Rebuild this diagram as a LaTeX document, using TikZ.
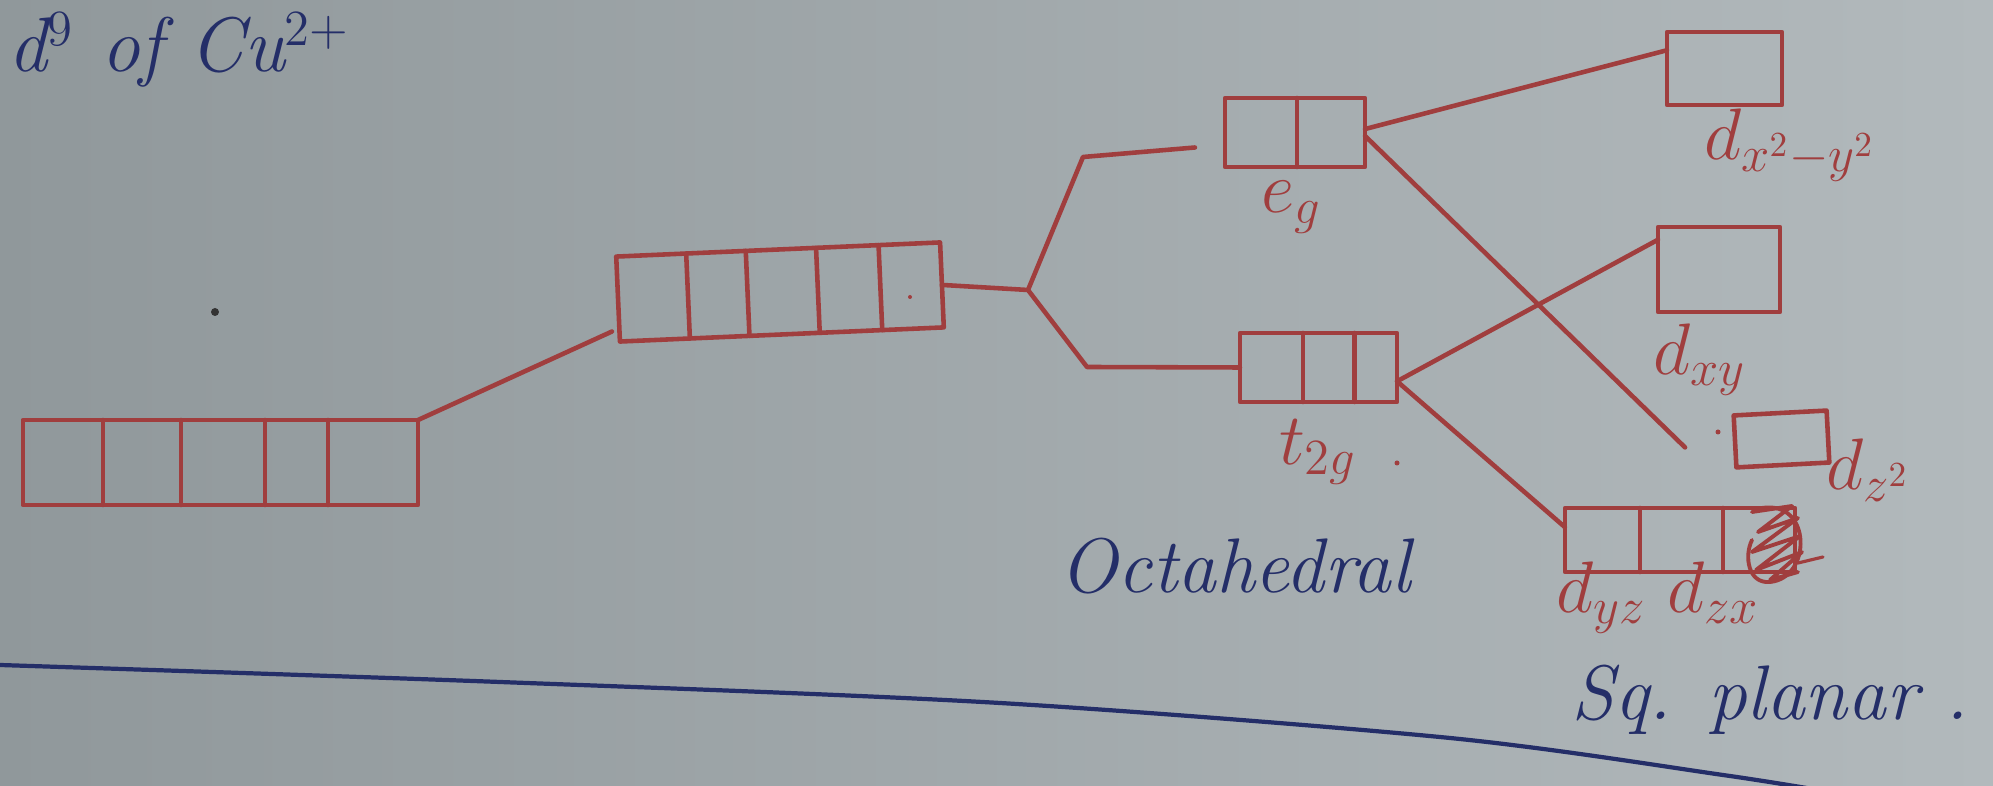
\documentclass[tikz,border=0pt]{standalone}
\usetikzlibrary{calc}
\definecolor{paperdark}{RGB}{144,152,155}
\definecolor{paperlight}{RGB}{178,185,188}
\definecolor{inkred}{RGB}{160,62,62}
\definecolor{inkblue}{RGB}{36,46,104}

% divider lines splitting an orbital box into cells
\newcommand\orbcells[2]{%
  \foreach \f in {#2}
    \draw[ink] ($(#1.north west)!\f!(#1.north east)$) -- ($(#1.south west)!\f!(#1.south east)$);}

\tikzset{
  ink/.style={draw=inkred, line width=1.3pt, line cap=round, line join=round},
  orb/.style={ink, rectangle, inner sep=0pt, outer sep=0pt},
  orblabel/.style={text=inkred, font=\fontsize{20}{24}\selectfont, inner sep=0pt},
  note/.style={text=inkblue, font=\itshape\fontsize{22}{26}\selectfont, inner sep=0pt},
  rule/.style={draw=inkblue, line width=1.2pt},
}

\begin{document}
\begin{tikzpicture}[x=0.01cm, y=-0.01cm]
  \useasboundingbox (0,0) rectangle (1993,786);
  \shade[left color=paperdark, right color=paperlight] (0,0) rectangle (1993,786);

  % heading
  \node[note, anchor=base west] (title) at (8,72) {d$^{9}$ of Cu$^{2+}$};
  \fill[black!80] (215,312) circle (4);

  % free ion d orbitals
  \node[orb, minimum width=3.95cm, minimum height=0.85cm] (free) at (220.5,462.5) {};
  \orbcells{free}{0.203,0.40,0.613,0.772}

  % degenerate set
  \node[orb, minimum width=3.24cm, minimum height=0.85cm, rotate=2.5] (deg) at (780,292) {};
  \orbcells{deg}{0.216,0.40,0.617,0.81}
  \fill[inkred] (910,297) circle (2);

  % octahedral splitting
  \node[orb, minimum width=1.40cm, minimum height=0.69cm] (eg) at (1295,132.5) {};
  \orbcells{eg}{0.514}
  \node[orb, minimum width=1.57cm, minimum height=0.69cm] (t2g) at (1318.5,367.5) {};
  \orbcells{t2g}{0.40,0.73}
  \node[orblabel] (eglbl) at (1292,207) {$e_g$};
  \node[orblabel] (t2glbl) at (1318,452) {$t_{2g}$};
  \fill[inkred] (1397,463) circle (2.5);

  % square planar splitting
  \node[orb, minimum width=1.15cm, minimum height=0.73cm] (dx2y2) at (1724.5,68.5) {};
  \node[orb, minimum width=1.22cm, minimum height=0.85cm] (dxy) at (1719,269.5) {};
  \node[orb, minimum width=0.93cm, minimum height=0.52cm, rotate=3] (dz2) at (1781.5,439) {};
  \node[orb, minimum width=2.30cm, minimum height=0.64cm] (dyzx) at (1680,540) {};
  \orbcells{dyzx}{0.326,0.687}
  \fill[inkred] (1718,432) circle (2.5);

  % crossed-out cell
  \draw[ink, line width=1.1pt]
    (1752,512) -- (1792,506) -- (1758,532) -- (1798,518) -- (1752,552)
    -- (1800,536) -- (1756,570) -- (1802,552) -- (1770,580) -- (1798,572);
  \draw[ink, line width=1.1pt]
    (1762,508) .. controls (1812,500) and (1812,578) .. (1770,582)
    .. controls (1748,584) and (1744,556) .. (1752,540);
  \draw[ink, line width=0.9pt] (1798,563) -- (1823,557);

  \node[orblabel] (dx2y2lbl) at (1790,145) {$d_{x^2-y^2}$};
  \node[orblabel] (dxylbl) at (1700,360) {$d_{xy}$};
  \node[orblabel] (dz2lbl) at (1868,470) {$d_{z^2}$};
  \node[orblabel] (dyzxlbl) at (1658,598) {$d_{yz}\;d_{zx}$};

  % connectors
  \draw[ink] (free.north east) -- ($(deg.south west)+(-8,-10)$);
  \coordinate (fork) at (1028,290);
  \coordinate (upbend) at (1083,157);
  \coordinate (lowbend) at (1087,367);
  \coordinate (egend) at ($(eg.west)+(-30,15)$);
  \draw[ink] (deg.east) -- (fork) -- (upbend) -- (egend);
  \draw[ink] (fork) -- (lowbend) -- (t2g.west);

  \coordinate (dz2end) at ($(dz2.west)+(-50,6)$);
  \draw[ink] ($(eg.north east)!0.45!(eg.south east)$) -- ($(dx2y2.north west)!0.25!(dx2y2.south west)$);
  \draw[ink] ($(eg.north east)!0.55!(eg.south east)$) -- (dz2end);
  \draw[ink] ($(t2g.north east)!0.7!(t2g.south east)$) -- ($(dxy.north west)!0.15!(dxy.south west)$);
  \draw[ink] ($(t2g.north east)!0.7!(t2g.south east)$) -- ($(dyzx.north west)!0.3!(dyzx.south west)$);

  % geometry names
  \node[note] (octa) at (1235,566) {Octahedral};
  \node[note] (sqp) at (1770,700) {Sq. planar .};

  % ruled line
  \draw[rule] plot[smooth] coordinates {(0,665) (500,682) (1000,703) (1450,738) (1723,775) (1830,792)};
\end{tikzpicture}
\end{document}
